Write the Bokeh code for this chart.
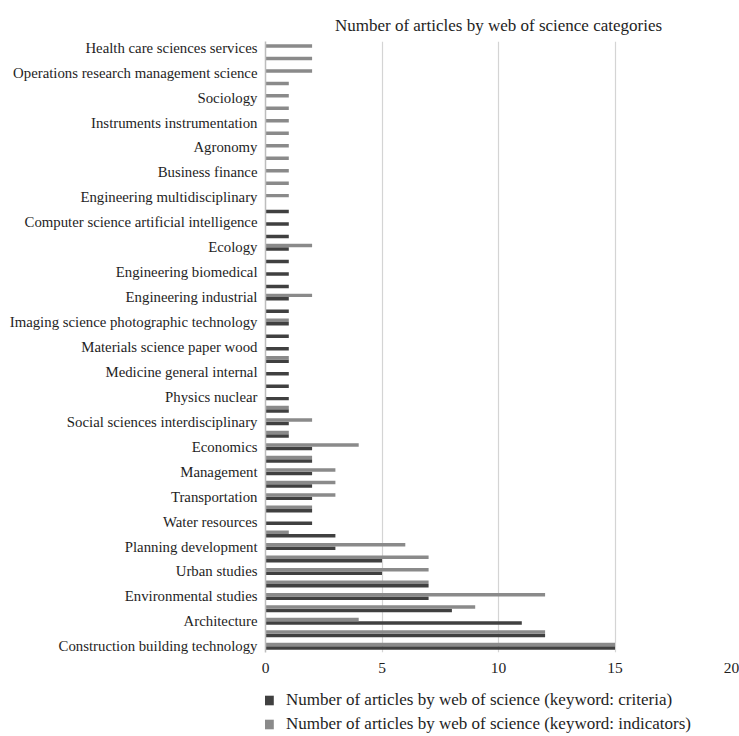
from bokeh.plotting import figure
from bokeh.models import ColumnDataSource, FixedTicker, Legend, LegendItem, Range1d
from bokeh.layouts import column
from bokeh.transform import dodge
from bokeh.embed import file_html
from bokeh.resources import INLINE

# Categories from bottom to top ("" = category whose label is not shown)
categories = [
    "Construction building technology", "",
    "Architecture", "",
    "Environmental studies", "",
    "Urban studies", "",
    "Planning development", "",
    "Water resources", "",
    "Transportation", "",
    "Management", "",
    "Economics", "",
    "Social sciences interdisciplinary", "",
    "Physics nuclear", "",
    "Medicine general internal", "",
    "Materials science paper wood", "",
    "Imaging science photographic technology", "",
    "Engineering industrial", "",
    "Engineering biomedical", "",
    "Ecology", "",
    "Computer science artificial intelligence", "",
    "Engineering multidisciplinary", "",
    "Business finance", "",
    "Agronomy", "",
    "Instruments instrumentation", "",
    "Sociology", "",
    "Operations research management science", "",
    "Health care sciences services",
]
criteria = [15, 12, 11, 8, 7, 7, 5, 5, 3, 3, 2, 2, 2, 2, 2, 2, 2, 1, 1, 1,
            1, 1, 1, 1, 1, 1, 1, 1, 1, 1, 1, 1, 1, 1, 1, 1, 0, 0, 0, 0,
            0, 0, 0, 0, 0, 0, 0, 0, 0]
indicators = [15, 12, 4, 9, 12, 7, 7, 7, 6, 1, 0, 2, 3, 3, 3, 2, 4, 1, 2, 1,
              0, 0, 0, 1, 0, 0, 1, 0, 2, 0, 0, 0, 2, 0, 0, 0, 1, 1, 1, 1,
              1, 1, 1, 1, 1, 1, 2, 2, 2]
x_ticks = [0, 5, 10, 15, 20]
title_text = "Number of articles by web of science categories"
series_names = ["Number of articles by web of science (keyword: criteria)",
                "Number of articles by web of science (keyword: indicators)"]

pos = list(range(len(categories)))
src = ColumnDataSource(dict(y=pos, criteria=criteria, indicators=indicators))

FONT = "Liberation Serif"
DARK = "#404040"
GRAY = "#8a8a8a"
TXT = "#1e1e1e"

p = figure(width=739, height=680, output_backend="svg", toolbar_location=None,
           x_range=(0, 20), y_range=(-0.5, len(categories) - 0.5),
           min_border_left=265, min_border_right=8, min_border_top=41,
           min_border_bottom=28)
p.background_fill_color = "white"
p.border_fill_color = "white"
p.outline_line_color = None

r1 = p.hbar(y=dodge("y", -0.14, range=p.y_range), right="criteria", left=0,
            height=0.28, source=src, fill_color=DARK, line_color=None)
r2 = p.hbar(y=dodge("y", 0.14, range=p.y_range), right="indicators", left=0,
            height=0.28, source=src, fill_color=GRAY, line_color=None)

# axes
p.xaxis.ticker = FixedTicker(ticks=x_ticks)
p.xaxis.axis_line_color = None
p.xaxis.major_tick_line_color = None
p.xaxis.minor_tick_line_color = None
p.xaxis.major_label_text_font = FONT
p.xaxis.major_label_text_font_size = "15.5px"
p.xaxis.major_label_text_color = TXT
p.xaxis.major_label_standoff = 4

p.yaxis.ticker = FixedTicker(ticks=[i for i in pos if categories[i]])
p.yaxis.major_label_overrides = {i: categories[i] for i in pos if categories[i]}
p.yaxis.axis_line_color = "#bdbdbd"
p.yaxis.axis_line_width = 1.5
p.yaxis.major_tick_line_color = None
p.yaxis.minor_tick_line_color = None
p.yaxis.major_label_text_font = FONT
p.yaxis.major_label_text_font_size = "14.8px"
p.yaxis.major_label_text_color = TXT
p.yaxis.major_label_standoff = 2

p.xgrid.grid_line_color = "#d4d4d4"
p.xgrid.grid_line_width = 1.2
p.ygrid.grid_line_color = None

p.title.text = title_text
p.title.align = "center"
p.title.text_font = FONT
p.title.text_font_size = "17px"
p.title.text_font_style = "normal"
p.title.text_color = TXT
p.title.standoff = 14

# legend in a separate strip below the chart (its frame is aligned with the chart's frame)
p2 = figure(width=739, height=56, output_backend="svg", toolbar_location=None,
            x_range=Range1d(0, 20), y_range=Range1d(-20, -10),
            x_axis_type=None, y_axis_type=None,
            min_border_left=265, min_border_right=8, min_border_top=0,
            min_border_bottom=0)
p2.outline_line_color = None
p2.grid.visible = False
l1 = p2.scatter(x="criteria", y="y", marker="square", size=11, source=src,
                fill_color=DARK, line_color=None)
l2 = p2.scatter(x="indicators", y="y", marker="square", size=11, source=src,
                fill_color=GRAY, line_color=None)

legend = Legend(items=[LegendItem(label=series_names[0], renderers=[l1]),
                       LegendItem(label=series_names[1], renderers=[l2])],
                location=(-9, 0), orientation="vertical", margin=0,
                label_text_font=FONT, label_text_font_size="17px",
                label_text_color=TXT, glyph_width=25, glyph_height=24,
                spacing=0, padding=0, label_standoff=5,
                border_line_color=None, background_fill_alpha=0)
p2.add_layout(legend, "center")

open("out.html", "w").write(file_html(column(p, p2), INLINE))
